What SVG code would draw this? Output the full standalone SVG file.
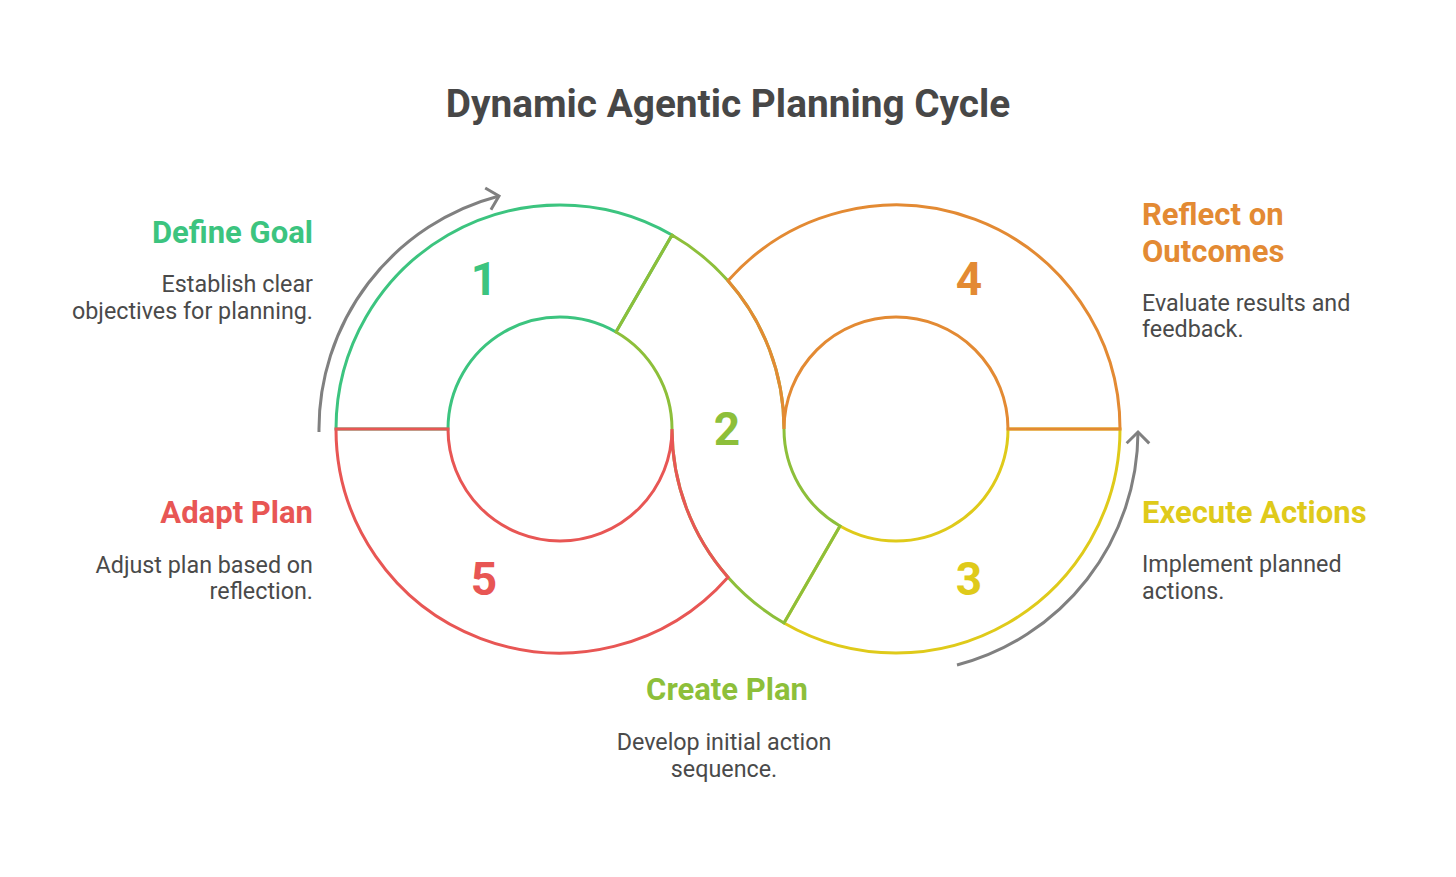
<svg xmlns="http://www.w3.org/2000/svg" width="1456" height="877" viewBox="0 0 1456 877">
  <style>
    .seg { fill: none; stroke-width: 3; stroke-linejoin: miter; }
    .title { font-family: Roboto, "Liberation Sans", sans-serif; font-weight: 700; font-size: 38.8px; fill: #474747; }
    .head { font-family: Roboto, "Liberation Sans", sans-serif; font-weight: 700; font-size: 31px; }
    .body { font-family: Roboto, "Liberation Sans", sans-serif; font-size: 23.3px; fill: #4a4a4a; }
    .num { font-family: Roboto, "Liberation Sans", sans-serif; font-weight: 700; font-size: 46px; text-anchor: middle; }
    .arrow { fill: none; stroke: #808080; stroke-width: 3; }
    .green { stroke: #3cc47f; fill: #3cc47f; }
    .lime { stroke: #8dbf3a; fill: #8dbf3a; }
    .orange { stroke: #e38a33; fill: #e38a33; }
    .yellow { stroke: #dfca1a; fill: #dfca1a; }
    .red { stroke: #e85654; fill: #e85654; }
    text.green, text.lime, text.orange, text.yellow, text.red { stroke: none; }
  </style>
  <defs>
    <marker id="chev" markerUnits="userSpaceOnUse" orient="auto" refX="0" refY="0" markerWidth="40" markerHeight="40" viewBox="-20 -20 40 40" overflow="visible">
      <path d="M-11.3,-11.3 L0,0 L-11.3,11.3" fill="none" stroke="#808080" stroke-width="3"/>
    </marker>
  </defs>
  <rect width="1456" height="877" fill="#ffffff"/>

  <text class="title" x="728" y="117" text-anchor="middle">Dynamic Agentic Planning Cycle</text>

  <g id="connectors">
    <path class="arrow" d="M319,432 A241,241 0 0 1 499,196" marker-end="url(#chev)"/>
    <path class="arrow" d="M957,665 A242,242 0 0 0 1138,432" marker-end="url(#chev)"/>
  </g>

  <g id="node-1">
    <path class="seg green" style="fill:none" d="M336,429 A224,224 0 0 1 672,235.01 L616,332 A112,112 0 0 0 448,429 Z"/>
    <text class="num green" x="484" y="295">1</text>
    <text class="head green" x="313" y="243" text-anchor="end">Define Goal</text>
    <text class="body" x="313" y="292" text-anchor="end">Establish clear</text>
    <text class="body" x="313" y="318.5" text-anchor="end">objectives for planning.</text>
  </g>

  <g id="node-3">
    <path class="seg yellow" style="fill:none" d="M784,623 A224,224 0 0 0 1120,429 L1008,429 A112,112 0 0 1 840,526 Z"/>
    <text class="num yellow" x="969" y="595">3</text>
    <text class="head yellow" x="1142" y="523">Execute Actions</text>
    <text class="body" x="1142" y="572">Implement planned</text>
    <text class="body" x="1142" y="598.5">actions.</text>
  </g>

  <g id="node-2">
    <path class="seg lime" style="fill:none" d="M672,235.01 A224,224 0 0 1 728,280.84 A224,224 0 0 1 784,429 A112,112 0 0 0 840,526 L784,623 A224,224 0 0 1 728,577.16 A224,224 0 0 1 672,429 A112,112 0 0 0 616,332 Z"/>
    <text class="num lime" x="727" y="445">2</text>
    <text class="head lime" x="727" y="700" text-anchor="middle">Create Plan</text>
    <text class="body" x="724" y="750" text-anchor="middle">Develop initial action</text>
    <text class="body" x="724" y="776.5" text-anchor="middle">sequence.</text>
  </g>

  <g id="node-5">
    <path class="seg red" style="fill:none" d="M336,429 A224,224 0 0 0 728,577.16 A224,224 0 0 1 672,429 A112,112 0 0 1 448,429 Z"/>
    <text class="num red" x="484" y="595">5</text>
    <text class="head red" x="313" y="523" text-anchor="end">Adapt Plan</text>
    <text class="body" x="313" y="572.5" text-anchor="end">Adjust plan based on</text>
    <text class="body" x="313" y="599" text-anchor="end">reflection.</text>
  </g>

  <g id="node-4">
    <path class="seg orange" style="fill:none" d="M728,280.84 A224,224 0 0 1 1120,429 L1008,429 A112,112 0 0 0 784,429 A224,224 0 0 0 728,280.84 Z"/>
    <text class="num orange" x="969" y="295">4</text>
    <text class="head orange" x="1142" y="225">Reflect on</text>
    <text class="head orange" x="1142" y="261.5">Outcomes</text>
    <text class="body" x="1142" y="310.5">Evaluate results and</text>
    <text class="body" x="1142" y="337">feedback.</text>
  </g>
</svg>
